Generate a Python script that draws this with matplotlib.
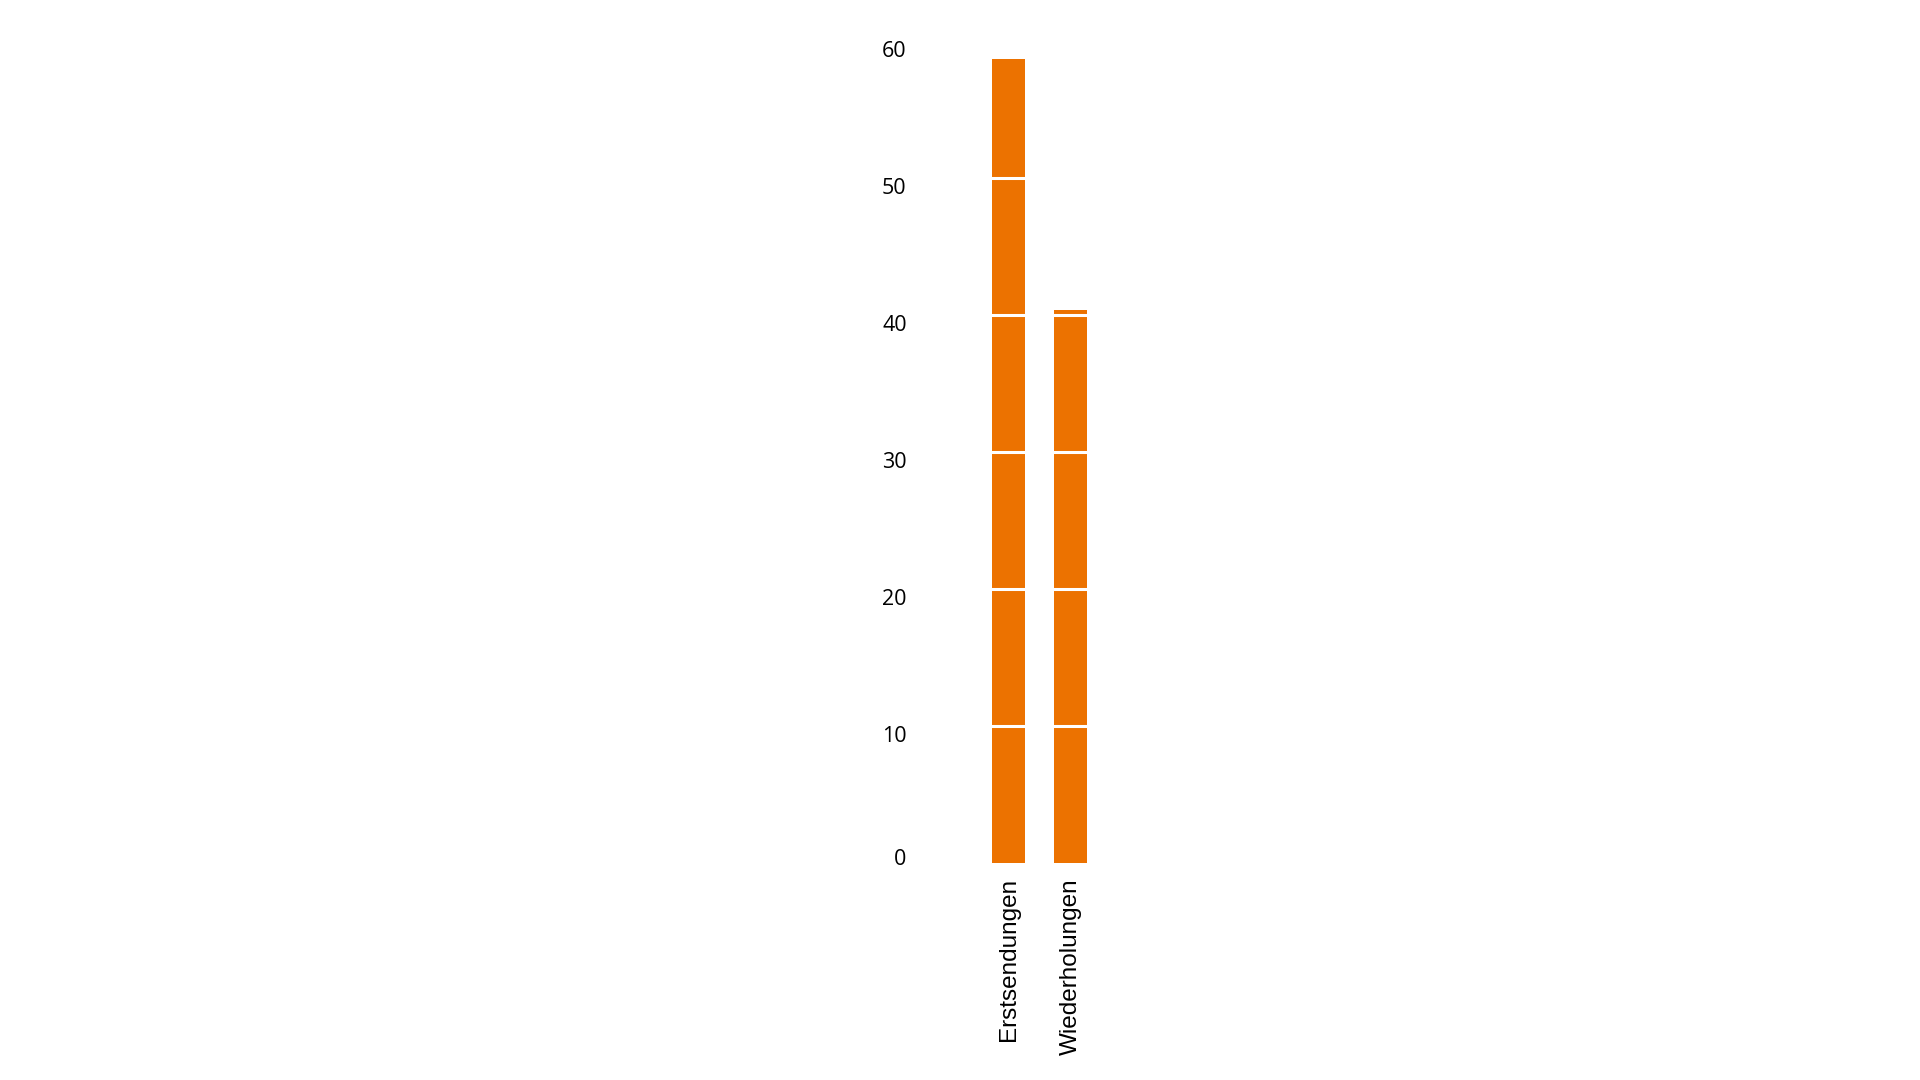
import matplotlib
matplotlib.use("Agg")
import matplotlib.pyplot as plt
import matplotlib.transforms as mtransforms

categories = ["Erstsendungen", "Wiederholungen"]
values = [58.7, 40.4]
yticks = [0, 10, 20, 30, 40, 50, 60]

bar_color = "#ec7200"

fig = plt.figure(figsize=(19.2, 10.8), dpi=100)
# 0 sits at y=863px, 60 at y=41px
ax = fig.add_axes([915 / 1920, (1080 - 863) / 1080, 250 / 1920, 822 / 1080])

x = list(range(len(categories)))
ax.bar(x, values, width=0.52, color=bar_color, zorder=1)

# white separators across the bars at every tick
for t in yticks[1:]:
    ax.axhline(t, color="white", lw=2.2, zorder=2)

ax.set_xlim(-1.508, 2.524)
ax.set_ylim(0, 60)
ax.set_yticks(yticks)
ax.set_yticklabels([str(t) for t in yticks], fontsize=15.5, family="Open Sans", color="black")
ax.set_xticks(x)
ax.set_xticklabels(categories, rotation=90, fontsize=17.5, family="Liberation Sans",
                   color="black", va="top", ha="center")
ax.tick_params(axis="y", length=0, pad=6)
ax.tick_params(axis="x", length=0, pad=11)

# tick numbers sit a little below the separator lines, the 0 just above the base
for t, lbl in zip(yticks, ax.get_yticklabels()):
    dy = 6 if t == 0 else -8
    offset = mtransforms.ScaledTranslation(0, dy / 100, fig.dpi_scale_trans)
    lbl.set_transform(lbl.get_transform() + offset)

for s in ax.spines.values():
    s.set_visible(False)

fig.savefig("out.png", dpi=100, facecolor="white")
